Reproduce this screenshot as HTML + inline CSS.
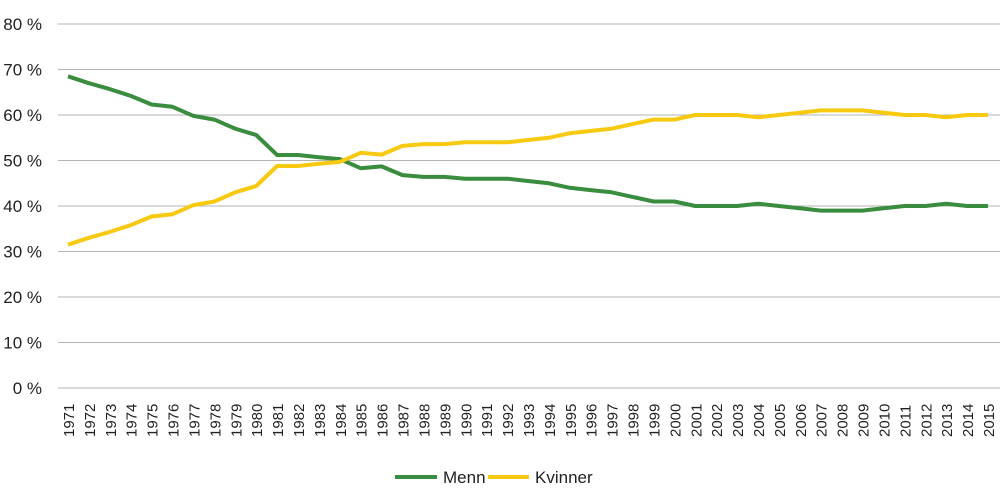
<!DOCTYPE html>
<html><head><meta charset="utf-8"><style>
body{margin:0;background:#fff;}
svg{display:block;font-family:"Liberation Sans",Arial,sans-serif;}
</style></head><body>
<svg id="c" width="1000" height="501" xmlns="http://www.w3.org/2000/svg"></svg>
<script>
var s=document.getElementById('c'),h='';
var y0=388,u=4.55;
for(var i=0;i<=8;i++){var y=y0-i*10*u;
h+='<line x1="58" x2="1000" y1="'+y+'" y2="'+y+'" stroke="#b3b3b3" stroke-width="1"/>';
h+='<text x="42" y="'+(y+6)+'" font-size="17" fill="#222" text-anchor="end">'+(i*10)+' %</text>';}
var m=[68.5,67,65.7,64.2,62.3,61.8,59.8,59,57,55.6,51.2,51.2,50.7,50.3,48.3,48.7,46.8,46.4,46.4,46,46,46,45.5,45,44,43.5,43,42,41,41,40,40,40,40.5,40,39.5,39,39,39,39.5,40,40,40.5,40,40];
var x0=68,dx=920/44,pm='',pk='';
for(var i=0;i<45;i++){var x=x0+i*dx;
pm+=(i?'L':'M')+x.toFixed(1)+','+(y0-m[i]*u).toFixed(1);
pk+=(i?'L':'M')+x.toFixed(1)+','+(y0-(100-m[i])*u).toFixed(1);
h+='<text transform="translate('+(x+6)+',437) rotate(-90)" font-size="15" fill="#222">'+(1971+i)+'</text>';}
h+='<path d="'+pm+'" fill="none" stroke="#3a8c3f" stroke-width="4" stroke-linejoin="round"/>';
h+='<path d="'+pk+'" fill="none" stroke="#f7c910" stroke-width="4" stroke-linejoin="round"/>';
h+='<line x1="395" x2="437" y1="477" y2="477" stroke="#3a8c3f" stroke-width="4"/>';
h+='<text x="443" y="483" font-size="17" fill="#222">Menn</text>';
h+='<line x1="488" x2="529" y1="477" y2="477" stroke="#f7c910" stroke-width="4"/>';
h+='<text x="535" y="483" font-size="17" fill="#222">Kvinner</text>';
s.innerHTML=h;
</script>
</body></html>
